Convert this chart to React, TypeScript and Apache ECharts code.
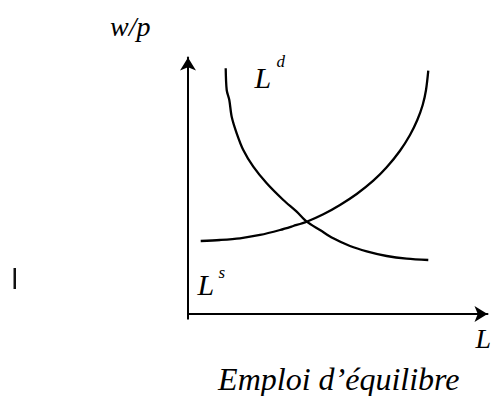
import React, { useEffect, useRef } from "react";
import * as echarts from "echarts";

const demandX = [12.59, 12.92, 13.79, 14.59, 16.26, 18.46, 21.8, 26.28, 31.82, 36.29, 39.63, 44.07, 48.51, 54.09, 59.67, 66.34, 73.02, 80.23];
const demandY = [95.79, 87.33, 83.43, 76.92, 70.45, 63.94, 57.43, 50.95, 44.44, 39.88, 35.98, 32.75, 29.51, 26.51, 24.44, 22.61, 21.56, 21.05];

// Labour supply curve L^s
const supplyX = [4.24, 10.68, 17.36, 24.04, 30.72, 35.16, 39.63, 45.18, 50.75, 56.33, 61.87, 66.34, 70.78, 74.12, 76.56, 78.36, 79.47, 80.23];
const supplyY = [28.46, 28.85, 29.51, 30.8, 32.75, 34.31, 35.98, 38.87, 42.5, 46.78, 51.97, 57.19, 63.66, 69.79, 75.63, 81.48, 87.33, 94.85];

const yAxisName = "w/p";
const xAxisName = "L";
const demandName = "L";
const demandSup = "d";
const supplyName = "L";
const supplySup = "s";
const title = "Emploi d\u2019\u00e9quilibre";

const SERIF = "Liberation Serif, Times New Roman, serif";

export default function App() {
  const ref = useRef<HTMLDivElement>(null);

  useEffect(() => {
    if (!ref.current) return;
    const chart = echarts.init(ref.current, null, { renderer: "svg" });

    const axisCommon = {
      type: "value" as const,
      min: 0,
      max: 100,
      axisLabel: { show: false },
      axisTick: { show: false },
      splitLine: { show: false },
      axisLine: {
        show: true,
        symbol: ["none", "arrow"],
        symbolSize: [12, 13],
        lineStyle: { color: "#000", width: 2 },
      },
    };

    const txt = (text: string, x: number, y: number, size: number, align: string = "left") => ({
      type: "text",
      x,
      y,
      style: {
        text,
        fill: "#000",
        fontFamily: SERIF,
        fontStyle: "italic",
        fontSize: size,
        align,
        verticalAlign: "middle",
      },
    });

    chart.setOption({
      animation: false,
      backgroundColor: "#fff",
      grid: { left: 188, top: 57.5, width: 299.5, height: 256.5, containLabel: false },
      xAxis: axisCommon,
      yAxis: axisCommon,
      series: [
        {
          type: "line",
          name: "Ld",
          smooth: 0.3,
          showSymbol: false,
          silent: true,
          lineStyle: { color: "#000", width: 2.3 },
          data: demandX.map((x, i) => [x, demandY[i]]),
        },
        {
          type: "line",
          name: "Ls",
          smooth: 0.3,
          showSymbol: false,
          silent: true,
          lineStyle: { color: "#000", width: 2.3 },
          data: supplyX.map((x, i) => [x, supplyY[i]]),
        },
      ],
      graphic: [
        {
          type: "line",
          shape: { x1: 188, y1: 313, x2: 188, y2: 319.5 },
          style: { stroke: "#000", lineWidth: 2 },
        },
        {
          type: "rect",
          shape: { x: 13.5, y: 268, width: 2.5, height: 21 },
          style: { fill: "#111" },
        },
        txt(yAxisName, 110, 26.5, 28),
        txt(demandName, 254.5, 77.6, 30),
        txt(demandSup, 276.5, 61, 17),
        txt(supplyName, 197.5, 284.9, 30),
        txt(supplySup, 218.5, 272, 17),
        txt(xAxisName, 475.5, 338.5, 28),
        txt(title, 338.8, 378.5, 32, "center"),
      ],
    });

    return () => chart.dispose();
  }, []);

  return (
    <div
      ref={ref}
      style={{ position: "absolute", left: 0, top: 0, width: 495, height: 396 }}
    />
  );
}
